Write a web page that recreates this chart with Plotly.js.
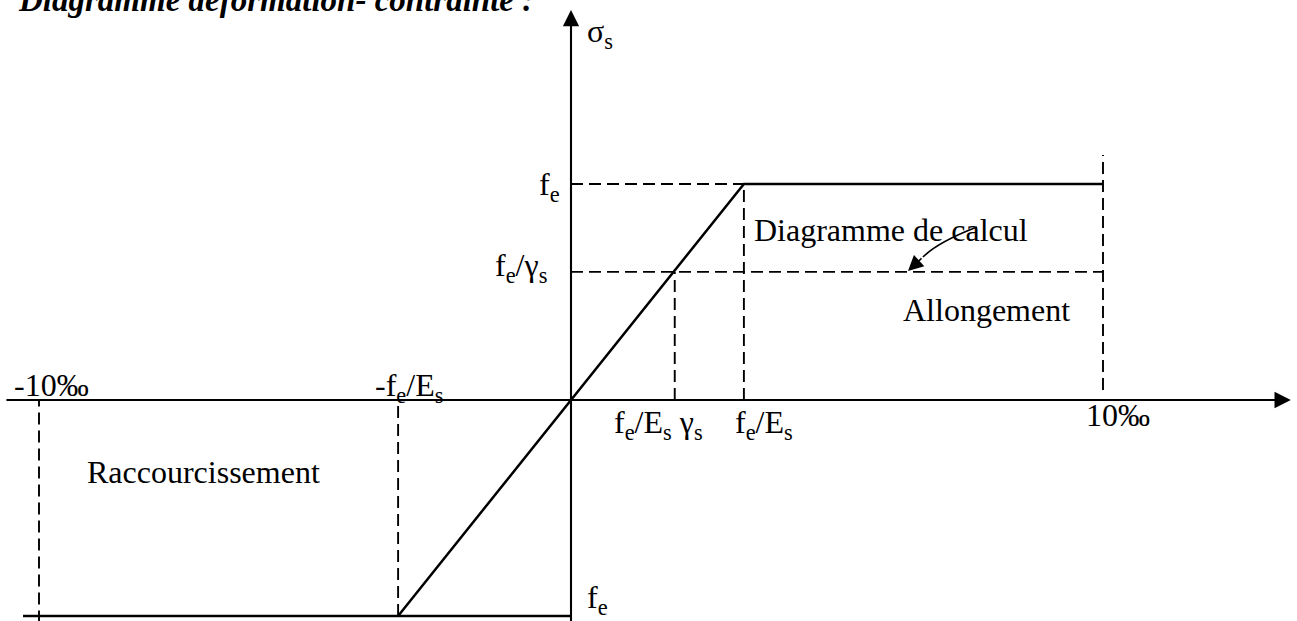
<!DOCTYPE html>
<html>
<head>
<meta charset="utf-8">
<script src="https://cdn.plot.ly/plotly-3.0.1.min.js"></script>
<style>html,body{margin:0;padding:0;background:#fff;}#chart{width:1297px;height:621px;}</style>
</head>
<body>
<div id="chart"></div>
<script>
// ---- values (strain in ‰, stress as σs/fe) ----
const designEps = [-3.25, 3.25, 10];      // design curve: -fe/Es, fe/Es, 10‰
const designSig = [-1, 1, 1];
const compEps = [-10.3, 0];               // -fe level line
const compSig = [-1, -1];
const hGuideEnd = [3.25, 10];             // horizontal dashed guides end strain
const hGuideSig = [1, 0.593];             // fe, fe/γs
const vGuideEps = [-10, -3.25, 1.95, 3.25, 10];
const vGuideTop = [0, 0, 0.593, 1, 1.134];
const vGuideBot = [-1.03, -1, 0, 0, 0.046];
const axisX = [-10.64, 13.53];            // horizontal axis extent (‰)
const axisY = [-1.03, 1.806];             // vertical axis extent

// pixel helpers (layout only)
const X0 = 571, Y0 = 400, SX = 53.2, SY = 216, W = 1297, H = 621;
const dx = p => (p - X0) / SX;
const dy = p => (Y0 - p) / SY;

const traces = [];
const dashStyle = {color: '#000', width: 1.9, dash: '12px,6px'};
for (let i = 0; i < hGuideEnd.length; i++) {
  traces.push({x: [0, hGuideEnd[i]], y: [hGuideSig[i], hGuideSig[i]], mode: 'lines', line: dashStyle, hoverinfo: 'skip'});
}
for (let i = 0; i < vGuideEps.length; i++) {
  traces.push({x: [vGuideEps[i], vGuideEps[i]], y: [vGuideBot[i], vGuideTop[i]], mode: 'lines', line: dashStyle, hoverinfo: 'skip'});
}
traces.push({x: compEps, y: compSig, mode: 'lines', line: {color: '#000', width: 2.5}, hoverinfo: 'skip'});
traces.push({x: designEps, y: designSig, mode: 'lines', line: {color: '#000', width: 2.5}, hoverinfo: 'skip'});

const font = {family: 'Liberation Serif, Times New Roman, serif', size: 32, color: '#000'};
function lab(text, px, py, anchor, size) {
  const f = Object.assign({}, font);
  if (size) f.size = size;
  return {text: text, x: px / W, y: 1 - py / H, xref: 'paper', yref: 'paper',
          xanchor: anchor || 'left', yanchor: 'middle', showarrow: false, font: f, borderpad: 0};
}
const annotations = [
  lab('<b><i>Diagramme déformation- contrainte :</i></b>', 17, 0, 'left', 33),
  lab('σ<sub>s</sub>', 586, 33),
  lab('f<sub>e</sub>', 561, 186, 'right'),
  lab('f<sub>e</sub>/γ<sub>s</sub>', 548, 268, 'right'),
  lab('-10‰', 13, 385),
  lab('-f<sub>e</sub>/E<sub>s</sub>', 374, 387),
  lab('f<sub>e</sub>/E<sub>s</sub> γ<sub>s</sub>', 613, 424),
  lab('f<sub>e</sub>/E<sub>s</sub>', 734, 424),
  lab('10‰', 1085, 415),
  lab('Diagramme de calcul', 753, 230),
  lab('Allongement', 902, 310),
  lab('Raccourcissement', 86, 472),
  lab('f<sub>e</sub>', 586, 599),
  // axis arrows
  {x: axisX[1], y: 0, ax: axisX[0], ay: 0, axref: 'x', ayref: 'y', xref: 'x', yref: 'y', text: '',
   showarrow: true, arrowhead: 2, arrowsize: 1.55, arrowwidth: 2.1, arrowcolor: '#000', standoff: 0},
  {x: 0, y: axisY[1], ax: 0, ay: axisY[0], axref: 'x', ayref: 'y', xref: 'x', yref: 'y', text: '',
   showarrow: true, arrowhead: 2, arrowsize: 1.55, arrowwidth: 2.1, arrowcolor: '#000', standoff: 0},
  // curved pointer head
  {x: dx(908), y: dy(271), ax: 15, ay: -14, xref: 'x', yref: 'y', text: '',
   showarrow: true, arrowhead: 2, arrowsize: 1.9, arrowwidth: 1.6, arrowcolor: '#000', standoff: 0}
];

const curve = 'M' + dx(977) + ',' + dy(227) + ' Q' + dx(938) + ',' + dy(242) + ' ' + dx(923) + ',' + dy(257);
const shapes = [
  {type: 'path', xref: 'x', yref: 'y', path: curve, line: {color: '#000', width: 1.7}}
];

const layout = {
  width: W, height: H,
  margin: {l: 0, r: 0, t: 0, b: 0},
  paper_bgcolor: '#fff', plot_bgcolor: '#fff',
  showlegend: false,
  xaxis: {range: [dx(0), dx(W)], visible: false, fixedrange: true},
  yaxis: {range: [dy(H), dy(0)], visible: false, fixedrange: true},
  annotations: annotations,
  shapes: shapes
};
Plotly.newPlot('chart', traces, layout, {displayModeBar: false, staticPlot: true});
</script>
</body>
</html>
